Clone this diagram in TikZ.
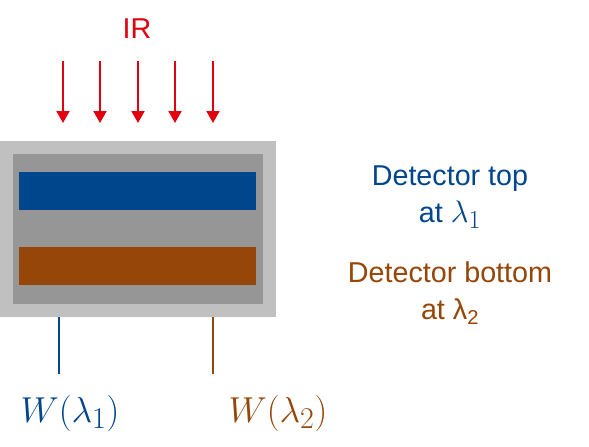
\documentclass[tikz,border=0pt]{standalone}
\usepackage{fontspec}
\usepackage{graphicx}
\setmainfont{Liberation Sans}
\usetikzlibrary{arrows.meta}
\definecolor{dblue}{RGB}{0,70,140}
\definecolor{dbrown}{RGB}{150,70,8}
\definecolor{irred}{RGB}{224,0,16}
\definecolor{outergrey}{RGB}{192,192,192}
\definecolor{innergrey}{RGB}{150,150,150}
\tikzset{
  box/.style={draw=none, inner sep=0pt, outer sep=0pt, minimum width=#1},
  irarrow/.style={irred, line width=2pt, -{Triangle[width=13pt,length=12pt]}},
  lbl/.style={font=\fontsize{28.7}{37}\selectfont, align=center, inner sep=0pt},
  lead/.style={line width=2.2pt},
  wlbl/.style={font=\fontsize{24.88}{30}\selectfont, inner sep=0pt}
}
\newcommand{\bigmath}[1]{\scalebox{1.45}{$#1$}}
\newcommand{\midmath}[1]{\scalebox{1.25}{$#1$}}
\begin{document}
\begin{tikzpicture}[x=1pt,y=-1pt]
\useasboundingbox (0,0) rectangle (589,447);
\fill[white] (0,0) rectangle (589,447);
% boxes
\node[box=276pt, minimum height=176pt, fill=outergrey, anchor=north west] (outer) at (0,141) {};
\node[box=250pt, minimum height=150pt, fill=innergrey, anchor=north west] (inner) at (13,154) {};
\node[box=237pt, minimum height=38pt, fill=dblue, anchor=north west] (top) at (19,172) {};
\node[box=237pt, minimum height=38pt, fill=dbrown, anchor=north west] (bot) at (19,247) {};
% IR
\node[lbl, irred] (ir) at (137,29) {IR};
\foreach \x [count=\i] in {63,100,138,175,213}{
  \coordinate (a\i) at (\x,61);
  \coordinate (b\i) at (\x,123);
  \draw[irarrow] (a\i) -- (b\i);
}
% leads
\coordinate (l1) at (59,374);
\coordinate (l2) at (213,374);
\draw[lead, dblue] (outer.south -| l1) -- (l1);
\draw[lead, dbrown] (outer.south -| l2) -- (l2);
\node[wlbl, dblue] (w1) at (70,413) {\bigmath{W(\lambda_1)}};
\node[wlbl, dbrown] (w2) at (278,413) {\bigmath{W(\lambda_2)}};
% right labels
\node[lbl, dblue] (dt) at (450,197) {Detector top\\at \midmath{\lambda_1}};
\node[lbl, dbrown] (db) at (450,293) {Detector bottom\\at λ\textsubscript{2}};
\end{tikzpicture}
\end{document}
